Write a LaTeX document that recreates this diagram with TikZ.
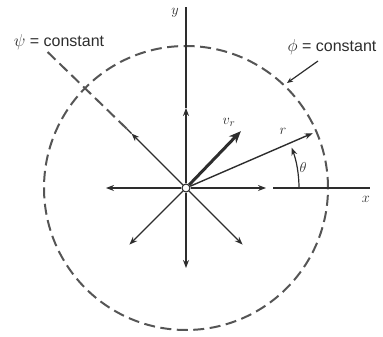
\documentclass[tikz,border=0pt]{standalone}
\usepackage{amsmath,amssymb}
\usepackage{fontspec}
\setsansfont{Liberation Sans}
\usepackage{xcolor}
\definecolor{ink}{RGB}{45,45,45}
\definecolor{dashgray}{RGB}{85,85,85}
\usetikzlibrary{arrows.meta}

\begin{document}
\begin{tikzpicture}[>={Stealth[length=8pt,width=6pt]}, x=1pt, y=1pt, ink, line width=1.4pt,
  vec/.style={->, line width=1.4pt},
  dashline/.style={dashgray, line width=2pt, dash pattern=on 11pt off 5.5pt},
  lbl/.style={font=\sffamily\fontsize{16}{18}\selectfont, inner sep=0pt},
  sym/.style={font=\fontsize{15}{17}\selectfont, inner sep=0pt}]
\useasboundingbox (-186,-149) rectangle (197,188);
% equipotential circle
\draw[dashline] (0,0) circle (142);
\node[circle, draw, fill=white, inner sep=0pt, minimum size=8pt, line width=1.1pt] (o) at (0,0) {};
% radial velocity arrows
\foreach \a/\n in {0/e,90/n,180/w,225/sw,270/s,315/se}
  \draw[vec] (o.\a) -- (\a:80) coordinate (\n);
\draw[vec] (o.135) -- (135:77) coordinate (nw);
\draw (nw) -- (135:84) coordinate (psi0);
\draw[dashline] (psi0) -- (135.5:194) coordinate (psi1);
\draw[line width=3pt, -{Stealth[length=12pt,width=10pt]}] (o.45) -- (46:79) coordinate (vr);
% axes
\coordinate (xa) at (87,0);
\coordinate (xb) at (184,0);
\coordinate (ytop) at (0,181);
\draw (xa) -- (xb);
\draw (n) -- (ytop);
\node[sym] (xl) at (180,-11) {$x$};
\node[sym] (yl) at (-11,175) {$y$};
% r and theta
\draw[vec] (o.23) -- (23.4:138) coordinate (rp);
\node[sym] (rl) at (97,57) {$r$};
\draw[->, line width=1.2pt] (113,0) arc[start angle=0, end angle=21, radius=113];
\node[sym] (thl) at (117,20) {$\theta$};
\node[sym] (vrl) at (43,66) {$v_r$};
% labels
\node[lbl] (psi) at (-127,146) {$\psi$ = constant};
\node[lbl] (phi) at (146,141) {$\phi$ = constant};
\coordinate (phi0) at (132,127);
\coordinate (phi1) at (101,105);
\draw[-{Stealth[length=6pt,width=5pt]}, line width=1.2pt] (phi0) -- (phi1);
\end{tikzpicture}
\end{document}
